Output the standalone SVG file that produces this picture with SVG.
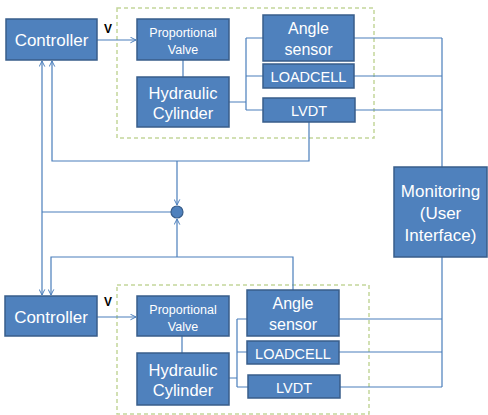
<svg xmlns="http://www.w3.org/2000/svg" width="488" height="415" viewBox="0 0 488 415">
  <defs>
    <style>
      .box { fill: #4F81BD; stroke: #385D8A; stroke-width: 1.5; }
      .grp { fill: none; stroke: #C3D69B; stroke-width: 1.5; stroke-dasharray: 4 3; }
      .ln { fill: none; stroke: #4A7EBB; stroke-width: 1.2; }
      .t { fill: #FFFFFF; font-family: "Liberation Sans", Arial, sans-serif; text-anchor: middle; }
      .lbl { fill: #000000; font-family: "Liberation Sans", Arial, sans-serif; font-weight: bold; font-size: 12px; }
    </style>
    <marker id="arr" viewBox="0 0 10 10" refX="9" refY="5" markerWidth="7" markerHeight="7" markerUnits="userSpaceOnUse" orient="auto">
      <path d="M1,1 L9,5 L1,9" fill="none" stroke="#4A7EBB" stroke-width="1.4"/>
    </marker>
  </defs>
  <rect width="488" height="415" fill="#FFFFFF"/>

  <!-- dashed plant groupings -->
  <rect class="grp" x="117" y="8" width="257" height="130"/>
  <rect class="grp" x="117" y="285" width="252" height="129"/>

  <g id="connectors">
    <!-- controller to valve -->
    <line class="ln" x1="97" y1="40" x2="136" y2="40" marker-end="url(#arr)"/>
    <line class="ln" x1="97" y1="317" x2="136" y2="317" marker-end="url(#arr)"/>
    <!-- valve to cylinder -->
    <line class="ln" x1="183" y1="60" x2="183" y2="77"/>
    <line class="ln" x1="182" y1="336" x2="182" y2="353"/>
    <!-- cylinder to sensors (upper) -->
    <path class="ln" d="M229,102 H246 M246,38 V110 M246,38 H263 M246,76 H263 M246,110 H263"/>
    <!-- cylinder to sensors (lower) -->
    <path class="ln" d="M229,378 H237 M237,319 V387 M237,319 H247 M237,352 H247 M237,387 H248"/>
    <!-- sensors to monitoring -->
    <path class="ln" d="M354,38 H442 M354,76 H442 M355,110 H442 M442,38 V167"/>
    <path class="ln" d="M339,319 H442 M339,352 H442 M340,387 H442 M442,257 V387"/>
    <!-- upper LVDT feedback -->
    <path class="ln" d="M309,122 V161 H52 V61" marker-end="url(#arr)"/>
    <path class="ln" d="M177,161 V205" marker-end="url(#arr)"/>
    <!-- lower angle sensor feedback -->
    <path class="ln" d="M293,290 V257 H51 V295" marker-end="url(#arr)"/>
    <path class="ln" d="M177,257 V219" marker-end="url(#arr)"/>
    <!-- summing point to both controllers -->
    <line class="ln" x1="42" y1="212" x2="171" y2="212"/>
    <line class="ln" x1="42" y1="212" x2="42" y2="61" marker-end="url(#arr)"/>
    <line class="ln" x1="42" y1="212" x2="42" y2="295" marker-end="url(#arr)"/>
    <text class="lbl" x="104" y="33">V</text>
    <text class="lbl" x="104" y="306">V</text>
  </g>

  <g id="sum">
    <circle cx="177" cy="212" r="6" fill="#4F81BD" stroke="#385D8A" stroke-width="1.2"/>
  </g>

  <g id="controller1">
    <rect class="box" x="6" y="19" width="91" height="41"/>
    <text class="t" x="51.5" y="46" font-size="17">Controller</text>
  </g>
  <g id="valve1">
    <rect class="box" x="137" y="19" width="92" height="41"/>
    <text class="t" x="183" y="37" font-size="12.5">Proportional</text>
    <text class="t" x="183" y="54" font-size="12.5">Valve</text>
  </g>
  <g id="cylinder1">
    <rect class="box" x="137" y="77" width="92" height="50"/>
    <text class="t" x="183" y="99" font-size="16.5">Hydraulic</text>
    <text class="t" x="183" y="119" font-size="16.5">Cylinder</text>
  </g>
  <g id="angle1">
    <rect class="box" x="263" y="15" width="91" height="46"/>
    <text class="t" x="308.5" y="34" font-size="16">Angle</text>
    <text class="t" x="308.5" y="55" font-size="16">sensor</text>
  </g>
  <g id="loadcell1">
    <rect class="box" x="263" y="64" width="91" height="24"/>
    <text class="t" x="308.5" y="82" font-size="14.5">LOADCELL</text>
  </g>
  <g id="lvdt1">
    <rect class="box" x="263" y="98" width="92" height="24"/>
    <text class="t" x="309" y="116" font-size="14.5">LVDT</text>
  </g>

  <g id="monitoring">
    <rect class="box" x="394" y="167" width="93" height="90"/>
    <text class="t" x="440.5" y="197" font-size="17">Monitoring</text>
    <text class="t" x="440.5" y="219" font-size="17">(User</text>
    <text class="t" x="440.5" y="241" font-size="17">Interface)</text>
  </g>

  <g id="controller2">
    <rect class="box" x="5" y="296" width="92" height="40"/>
    <text class="t" x="51" y="323" font-size="17">Controller</text>
  </g>
  <g id="valve2">
    <rect class="box" x="137" y="296" width="92" height="40"/>
    <text class="t" x="183" y="314" font-size="12.5">Proportional</text>
    <text class="t" x="183" y="331" font-size="12.5">Valve</text>
  </g>
  <g id="cylinder2">
    <rect class="box" x="137" y="353" width="92" height="52"/>
    <text class="t" x="183" y="376" font-size="16.5">Hydraulic</text>
    <text class="t" x="183" y="396" font-size="16.5">Cylinder</text>
  </g>
  <g id="angle2">
    <rect class="box" x="247" y="290" width="92" height="46"/>
    <text class="t" x="293" y="309" font-size="16">Angle</text>
    <text class="t" x="293" y="330" font-size="16">sensor</text>
  </g>
  <g id="loadcell2">
    <rect class="box" x="247" y="341" width="92" height="23"/>
    <text class="t" x="293" y="358.5" font-size="14.5">LOADCELL</text>
  </g>
  <g id="lvdt2">
    <rect class="box" x="248" y="375" width="92" height="23"/>
    <text class="t" x="294" y="392.5" font-size="14.5">LVDT</text>
  </g>
</svg>
